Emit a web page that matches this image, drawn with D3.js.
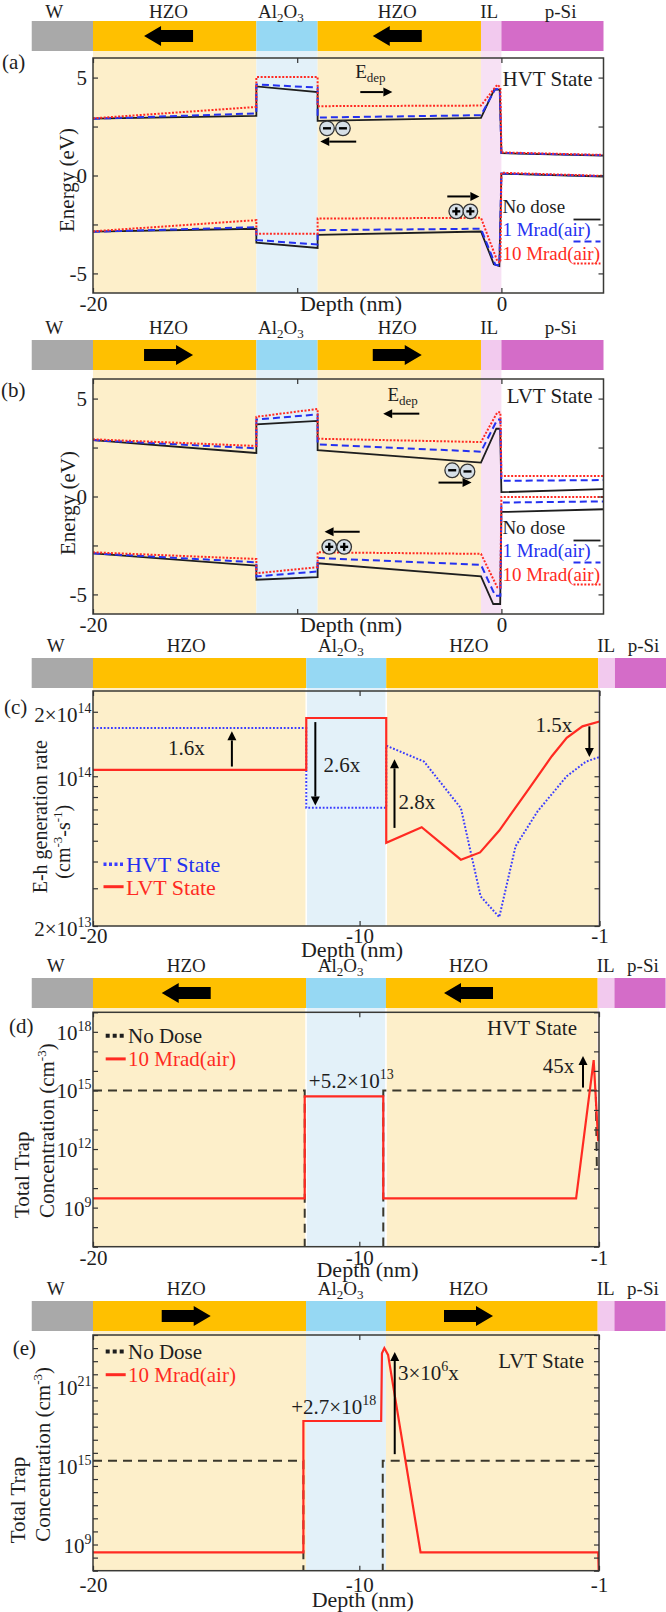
<!DOCTYPE html>
<html>
<head>
<meta charset="utf-8">
<script src="https://cdn.jsdelivr.net/npm/d3@7"></script>
<style>
  body { margin: 0; background: #fff; }
  svg { display: block; }
</style>
</head>
<body>
<svg id="chart"></svg>
<script>
// ---- layer stack (nm) ----
const layerNames = ["W", "HZO", "Al2O3", "HZO", "IL", "p-Si"];
const stackEdgesAB = [-23, -20, -12, -9, -1, 0, 5];
const stackEdgesCE = [-22.3, -20, -12, -9, -1.05, -0.42, 1.5];

// ---- (a) band diagram, HVT state: [depth nm, energy eV] ----
const hvtCbNoDose = [[-20, 2.9], [-12, 3.05], [-12, 4.55], [-9, 4.26], [-9, 2.79], [-1, 2.94], [-0.35, 4.39], [-0.08, 4.39], [0, 1.14], [5, 1.02]];
const hvtVbNoDose = [[-20, -2.87], [-12, -2.72], [-12, -3.43], [-9, -3.7], [-9, -3.03], [-1, -2.86], [-0.37, -4.53], [-0.1, -4.62], [0, 0.09], [5, -0.05]];
const hvtCb1M = [[-20, 2.9], [-12, 3.17], [-12, 4.65], [-9, 4.49], [-9, 2.96], [-1, 3.08], [-0.3, 4.42], [-0.08, 4.4], [0, 1.16], [5, 1.03]];
const hvtVb1M = [[-20, -2.87], [-12, -2.64], [-12, -3.3], [-9, -3.52], [-9, -2.79], [-1, -2.72], [-0.3, -4.55], [-0.1, -4.6], [0, 0.1], [5, -0.03]];
const hvtCb10M = [[-20, 2.92], [-12, 3.5], [-12, 5.03], [-9, 5.03], [-9, 3.54], [-1, 3.57], [-0.2, 4.64], [-0.05, 4.5], [0, 1.18], [5, 1.05]];
const hvtVb10M = [[-20, -2.85], [-12, -2.28], [-12, -2.97], [-9, -2.97], [-9, -2.2], [-1, -2.16], [-0.2, -4.37], [-0.05, -4.45], [0, 0.14], [5, -0.02]];

// ---- (b) band diagram, LVT state ----
const lvtCbNoDose = [[-20, 2.88], [-12, 2.22], [-12, 3.68], [-9, 3.86], [-9, 2.37], [-1, 1.73], [-0.25, 3.46], [-0.06, 3.46], [0, 0.22], [5, 0.38]];
const lvtVbNoDose = [[-20, -2.9], [-12, -3.53], [-12, -4.25], [-9, -4.12], [-9, -3.41], [-1, -4.08], [-0.4, -5.49], [-0.06, -5.49], [0, -0.79], [5, -0.65]];
const lvtCb1M = [[-20, 2.88], [-12, 2.46], [-12, 3.93], [-9, 4.19], [-9, 2.66], [-1, 2.29], [-0.2, 3.93], [-0.05, 3.93], [0, 0.8], [5, 0.84]];
const lvtVb1M = [[-20, -2.9], [-12, -3.36], [-12, -4.08], [-9, -3.83], [-9, -3.14], [-1, -3.49], [-0.3, -5.07], [-0.05, -5.07], [0, -0.31], [5, -0.25]];
const lvtCb10M = [[-20, 2.92], [-12, 2.58], [-12, 4.07], [-9, 4.47], [-9, 2.95], [-1, 2.78], [-0.2, 4.3], [-0.05, 4.3], [0, 1.05], [5, 1.05]];
const lvtVb10M = [[-20, -2.85], [-12, -3.19], [-12, -3.92], [-9, -3.61], [-9, -2.85], [-1, -2.93], [-0.2, -4.64], [-0.05, -4.64], [0, -0.02], [5, -0.02]];

// ---- (c) e-h generation rate (cm^-3 s^-1) ----
const genDepthLVT = [-20, -12, -12, -9, -9, -7.67, -6.2, -5.48, -4.76, -3.67, -2.79, -2.23, -1.64, -1];
const genRateLVT = [1.07e14, 1.07e14, 1.87e14, 1.87e14, 4.89e13, 5.78e13, 4.08e13, 4.41e13, 5.58e13, 8.67e13, 1.24e14, 1.51e14, 1.71e14, 1.8e14];
const genDepthHVT = [-20, -12, -12, -9, -9, -7.58, -6.2, -5.46, -4.76, -4.15, -3.32, -2.23, -1.51, -1];
const genRateHVT = [1.68e14, 1.68e14, 7.12e13, 7.12e13, 1.39e14, 1.17e14, 7.1e13, 2.75e13, 2.2e13, 4.71e13, 6.87e13, 1.0e14, 1.17e14, 1.23e14];

// ---- (d) trap concentration, HVT (cm^-3) ----
const trapDepthHvtNoDose = [-20, -12.05, -12.05, -9.1, -9.1, -1.12, -1.08];
const trapHvtNoDose = [1e15, 1e15, 1e5, 1e5, 1e15, 1e15, 1e11];
const trapDepthHvt10M = [-20, -12.05, -12.05, -9.1, -9.1, -1.86, -1.2, -1.03];
const trapHvt10M = [3e9, 3e9, 5e14, 5e14, 3e9, 3e9, 3.6e16, 2.5e12];

// ---- (e) trap concentration, LVT ----
const trapDepthLvtNoDose = [-20, -12.1, -12.1, -9.12, -9.12, -1];
const trapLvtNoDose = [2.5e15, 2.5e15, 1e5, 1e5, 2.5e15, 2.5e15];
const trapDepthLvt10M = [-20, -12.1, -12.1, -9.18, -9.15, -9.06, -8.92, -7.7, -1.03, -1];
const trapLvt10M = [2.5e8, 2.5e8, 2.7e18, 2.7e18, 4e23, 1e24, 3e23, 2.5e8, 2.5e8, 1e6];

// ---- ticks ----
const energyTicks = [-5, -2.5, 0, 2.5, 5];
const energyLabels = [-5, 0, 5];
const depthTicksAB = [-20, -10, 0];
const depthLabelsAB = [-20, 0];
const depthTicksCE = [-20, -10, -1];
const genTickLabels = [2e13, 1e14, 2e14];
const trapTicksD = d3.range(7, 20).map(e => Math.pow(10, e));
const trapTickLabelsD = [1e9, 1e12, 1e15, 1e18];
const trapTicksE = d3.range(7, 26).map(e => Math.pow(10, e));
const trapTickLabelsE = [1e9, 1e15, 1e21];

// ---- layout ----
const FONT = "'Liberation Serif', 'Times New Roman', Times, serif";
const labelNmAB = [-21.9, -16.3, -10.8, -5.1, -0.6, 2.9];
const labelNmCE = [-21.4, -16.5, -10.7, -5.9, -0.75, 0.65];
const fillOf = { "W": "#a9a9a9", "HZO": "#ffc000", "Al2O3": "#96d8f3", "IL": "#f2c9ee", "p-Si": "#d46cc8" };
const shadeOf = { "HZO": "#fdefca", "Al2O3": "#e3f1f9", "IL": "#f7e1f4" };
const INK = "#1e1e1e";
const BLUE = "#2431f0";
const RED = "#ff2a22";

const svg = d3.select("#chart").attr("width", 666).attr("height", 1612)
  .attr("font-family", FONT).style("font-family", FONT);

function layerLabel(t, name) {
  if (name === "Al2O3") {
    t.append("tspan").text("Al");
    t.append("tspan").attr("font-size", 13).attr("dy", 4).text("2");
    t.append("tspan").attr("dy", -4).text("O");
    t.append("tspan").attr("font-size", 13).attr("dy", 4).text("3");
  } else {
    t.text(name);
  }
}

function blockArrow(g, cx, cy, dir) {
  const L = 49, head = 17, hh = 10, bh = 6;
  const s = dir === "left" ? -1 : 1;
  const tip = cx + s * L / 2, tail = cx - s * L / 2, base = tip - s * head;
  const pts = [[tail, cy - bh], [base, cy - bh], [base, cy - hh], [tip, cy], [base, cy + hh], [base, cy + bh], [tail, cy + bh]];
  g.append("polygon").attr("points", pts.map(p => p.join(",")).join(" ")).attr("fill", "#000");
}

function arrow(g, x1, y1, x2, y2) {
  const a = Math.atan2(y2 - y1, x2 - x1), hl = 9, hw = 4.5;
  const bx = x2 - hl * Math.cos(a), by = y2 - hl * Math.sin(a);
  g.append("line").attr("x1", x1).attr("y1", y1).attr("x2", bx).attr("y2", by)
    .attr("stroke", "#000").attr("stroke-width", 2);
  const pts = [[x2, y2], [bx - hw * Math.sin(a), by + hw * Math.cos(a)], [bx + hw * Math.sin(a), by - hw * Math.cos(a)]];
  g.append("polygon").attr("points", pts.map(p => p.join(",")).join(" ")).attr("fill", "#000");
}

function charge(g, cx, cy, sign) {
  g.append("circle").attr("cx", cx).attr("cy", cy).attr("r", 7.3)
    .attr("fill", "#d6dfe7").attr("stroke", "#333").attr("stroke-width", 1.3);
  g.append("line").attr("x1", cx - 4).attr("x2", cx + 4).attr("y1", cy).attr("y2", cy)
    .attr("stroke", "#000").attr("stroke-width", 2.4);
  if (sign === "+") {
    g.append("line").attr("x1", cx).attr("x2", cx).attr("y1", cy - 4).attr("y2", cy + 4)
      .attr("stroke", "#000").attr("stroke-width", 2.4);
  }
}

function powLabel(t, v, sup) {
  const e = Math.round(Math.log10(v));
  const m = Math.round(v / Math.pow(10, e) * 10) / 10;
  t.append("tspan").text(m === 1 ? "10" : m + "×10");
  t.append("tspan").attr("font-size", sup).attr("dy", -9).text(e);
}

function drawPanel(p) {
  const g = svg.append("g");
  const x = d3.scaleLinear().domain(p.xDomain).range([p.l, p.r]);
  const y = (p.log ? d3.scaleLog() : d3.scaleLinear()).domain(p.yDomain).range([p.b, p.t]);
  const barH = 30, barBottom = p.barTop + barH;

  layerNames.forEach((name, i) => {
    const shade = shadeOf[name];
    if (!shade) return;
    const x0 = Math.max(x(p.edges[i]), p.l), x1 = Math.min(x(p.edges[i + 1]), p.r);
    if (x1 > x0) {
      g.append("rect").attr("x", x0).attr("y", barBottom).attr("width", x1 - x0)
        .attr("height", p.b - barBottom).attr("fill", shade);
    }
  });
  if (p.whiteEdges) {
    [p.edges[2], p.edges[3]].forEach(e => g.append("line")
      .attr("x1", x(e)).attr("x2", x(e)).attr("y1", barBottom).attr("y2", p.b)
      .attr("stroke", "#fff").attr("stroke-width", 1.6));
  }

  layerNames.forEach((name, i) => {
    g.append("rect").attr("x", x(p.edges[i])).attr("y", p.barTop)
      .attr("width", x(p.edges[i + 1]) - x(p.edges[i])).attr("height", barH)
      .attr("fill", fillOf[name]);
    const t = g.append("text").attr("x", x(p.labelNm[i])).attr("y", Math.max(p.barTop - 6.5, 17.5))
      .attr("text-anchor", "middle").attr("font-size", 19).attr("fill", INK);
    layerLabel(t, name);
  });
  if (p.pol) [1, 3].forEach(i => blockArrow(g, x(p.labelNm[i]), p.barTop + barH / 2, p.pol));

  const clipId = "clip-" + p.id;
  g.append("clipPath").attr("id", clipId).append("rect")
    .attr("x", p.l).attr("y", p.t).attr("width", p.r - p.l).attr("height", p.b - p.t);
  const plot = g.append("g").attr("clip-path", `url(#${clipId})`);

  g.append("rect").attr("x", p.l).attr("y", p.t).attr("width", p.r - p.l).attr("height", p.b - p.t)
    .attr("fill", "none").attr("stroke", "#3a3a36").attr("stroke-width", 1.5);

  g.append("text").attr("x", p.letterX).attr("y", p.letterY).attr("font-size", 21)
    .attr("fill", INK).text(`(${p.id})`);

  return Object.assign({}, p, { g, plot, x, y });
}

function axisTicks(g, axis, tr) {
  const a = g.append("g").attr("transform", tr).call(axis)
    .attr("font-family", FONT).attr("font-size", 21);
  a.select(".domain").remove();
  a.selectAll(".tick line").attr("stroke", "#333").attr("stroke-width", 1.2);
  a.selectAll(".tick text").attr("fill", INK);
  return a;
}

function depthAxes(P, ticks, labels, pad, labelY, labelX) {
  axisTicks(P.g, d3.axisBottom(P.x).tickValues(ticks).tickSize(-5).tickPadding(pad)
    .tickFormat(d => labels.includes(d) ? String(d) : ""), `translate(0,${P.b})`);
  axisTicks(P.g, d3.axisTop(P.x).tickValues(ticks).tickSize(-5).tickFormat(""), `translate(0,${P.t})`);
  P.g.append("text").attr("x", labelX).attr("y", labelY).attr("text-anchor", "middle")
    .attr("font-size", 22).attr("fill", INK).text("Depth (nm)");
}

function logAxes(P, ticks, labels, shift) {
  axisTicks(P.g, d3.axisLeft(P.y).tickValues(ticks).tickSize(-5).tickFormat(""), `translate(${P.l},0)`);
  axisTicks(P.g, d3.axisRight(P.y).tickValues(ticks).tickSize(-5).tickFormat(""), `translate(${P.r},0)`);
  labels.forEach(v => {
    const t = P.g.append("text").attr("x", P.l - 1.5).attr("y", P.y(v) + shift)
      .attr("text-anchor", "end").attr("font-size", 21).attr("fill", INK);
    powLabel(t, v, 14);
  });
}

// rotated axis title; parts are [text, isSuperscript]
function rotLabel(g, cx, cy, anchor, parts, size) {
  const t = g.append("text").attr("transform", `translate(${cx},${cy}) rotate(-90)`)
    .attr("dy", "0.35em").attr("text-anchor", anchor).attr("font-size", size).attr("fill", INK);
  let raised = false;
  parts.forEach(([s, sup]) => {
    const span = t.append("tspan").text(s);
    if (sup) { span.attr("font-size", 13).attr("dy", -8); raised = true; }
    else if (raised) { span.attr("dy", 8); raised = false; }
  });
  return t;
}

// ---------- (a) and (b): band diagrams ----------
function bandPanel(p, cb, vb, stateText, stateDy) {
  const P = drawPanel(p);
  const line = d3.line().x(d => P.x(d[0])).y(d => P.y(d[1]));
  const styles = [
    { color: INK, width: 1.8, dash: null },
    { color: BLUE, width: 2, dash: "7,4" },
    { color: RED, width: 2, dash: "2,1.6" }
  ];
  styles.forEach((s, i) => {
    [cb[i], vb[i]].forEach(series => P.plot.append("path").datum(series)
      .attr("d", line).attr("fill", "none").attr("stroke", s.color)
      .attr("stroke-width", s.width).attr("stroke-dasharray", s.dash));
  });

  axisTicks(P.g, d3.axisLeft(P.y).tickValues(energyTicks).tickSize(-5).tickPadding(6)
    .tickFormat(d => energyLabels.includes(d) ? String(d) : ""), `translate(${P.l},0)`);
  axisTicks(P.g, d3.axisRight(P.y).tickValues(energyTicks).tickSize(-5).tickFormat(""), `translate(${P.r},0)`);
  depthAxes(P, depthTicksAB, depthLabelsAB, 3, P.b + 18, 351);
  rotLabel(P.g, p.yLabelX, p.yLabelY, "middle", [["Energy (eV)"]], 21);

  P.g.append("text").attr("x", P.r - 11).attr("y", P.t + stateDy).attr("text-anchor", "end")
    .attr("font-size", 21).attr("fill", INK).text(stateText);

  const names = ["No dose", "1 Mrad(air)", "10 Mrad(air)"];
  const offs = [154.5, 178, 202];
  const sOffs = [161.5, 183.5, 205.5];
  names.forEach((n, i) => {
    P.g.append("text").attr("x", P.x(0) + 1).attr("y", P.t + offs[i])
      .attr("font-size", 19).attr("fill", styles[i].color).text(n);
    P.g.append("line").attr("x1", P.r - 30).attr("x2", P.r - 3)
      .attr("y1", P.t + sOffs[i]).attr("y2", P.t + sOffs[i])
      .attr("stroke", styles[i].color).attr("stroke-width", styles[i].width)
      .attr("stroke-dasharray", styles[i].dash);
  });
  return P;
}

function edep(P, xn, yn) {
  const t = P.g.append("text").attr("x", P.x(xn)).attr("y", P.y(yn)).attr("font-size", 19).attr("fill", INK);
  t.append("tspan").text("E");
  t.append("tspan").attr("font-size", 13).attr("dy", 4).text("dep");
}

const pa = bandPanel({ id: "a", barTop: 21, l: 93, r: 603.5, t: 58, b: 293, xDomain: [-20, 5], yDomain: [-6, 6],
  edges: stackEdgesAB, labelNm: labelNmAB, pol: "left", letterX: 2, letterY: 69, yLabelX: 66.7, yLabelY: 180 },
  [hvtCbNoDose, hvtCb1M, hvtCb10M], [hvtVbNoDose, hvtVb1M, hvtVb10M], "HVT State", 28);
edep(pa, -7.16, 5.0);
arrow(pa.g, pa.x(-6.91), pa.y(4.26), pa.x(-5.34), pa.y(4.26));
charge(pa.g, pa.x(-8.54), pa.y(2.41), "-");
charge(pa.g, pa.x(-7.76), pa.y(2.41), "-");
arrow(pa.g, pa.x(-7.11), pa.y(1.73), pa.x(-8.87), pa.y(1.73));
arrow(pa.g, pa.x(-2.65), pa.y(-1.07), pa.x(-1.08), pa.y(-1.07));
charge(pa.g, pa.x(-2.21), pa.y(-1.83), "+");
charge(pa.g, pa.x(-1.52), pa.y(-1.83), "+");

const pb = bandPanel({ id: "b", barTop: 340, l: 93, r: 603.5, t: 379, b: 614, xDomain: [-20, 5], yDomain: [-6, 6],
  edges: stackEdgesAB, labelNm: labelNmAB, pol: "right", letterX: 1, letterY: 397, yLabelX: 68, yLabelY: 503 },
  [lvtCbNoDose, lvtCb1M, lvtCb10M], [lvtVbNoDose, lvtVb1M, lvtVb10M], "LVT State", 23.5);
edep(pb, -5.58, 4.88);
arrow(pb.g, pb.x(-4.02), pb.y(4.23), pb.x(-5.79), pb.y(4.23));
charge(pb.g, pb.x(-2.41), pb.y(1.34), "-");
charge(pb.g, pb.x(-1.66), pb.y(1.28), "-");
arrow(pb.g, pb.x(-3.08), pb.y(0.71), pb.x(-1.46), pb.y(0.71));
arrow(pb.g, pb.x(-6.94), pb.y(-1.8), pb.x(-8.66), pb.y(-1.8));
charge(pb.g, pb.x(-8.43), pb.y(-2.57), "+");
charge(pb.g, pb.x(-7.7), pb.y(-2.57), "+");

// ---------- (c): generation rate ----------
const pc = drawPanel({ id: "c", barTop: 658, l: 93, r: 599.5, t: 691, b: 926, xDomain: [-20, -1], yDomain: [2e13, 2.5e14],
  log: true, edges: stackEdgesCE, labelNm: labelNmCE, pol: null, whiteEdges: true, letterX: 4, letterY: 714 });
{
  const lineC = d3.line().x(d => pc.x(d[0])).y(d => pc.y(d[1]));
  pc.plot.append("path").datum(d3.zip(genDepthHVT, genRateHVT)).attr("d", lineC).attr("fill", "none")
    .attr("stroke", "#3a3cff").attr("stroke-width", 2).attr("stroke-dasharray", "1.8,1.8");
  pc.plot.append("path").datum(d3.zip(genDepthLVT, genRateLVT)).attr("d", lineC).attr("fill", "none")
    .attr("stroke", RED).attr("stroke-width", 2.2);
  logAxes(pc, pc.y.ticks(), genTickLabels, 10);
  depthAxes(pc, depthTicksCE, depthTicksCE, 2, 957, 352);
  rotLabel(pc.g, 39.5, 816.7, "middle", [["E-h generation rate"]], 20);
  rotLabel(pc.g, 62.7, 841.7, "middle", [["(cm"], ["-3", true], ["-s"], ["-1", true], [")"]], 20);

  [["1.6x", -16.5, 1.36e14], ["2.6x", -10.66, 1.13e14], ["2.8x", -7.85, 7.64e13], ["1.5x", -2.71, 1.74e14]]
    .forEach(([s, xn, v]) => pc.g.append("text").attr("x", pc.x(xn)).attr("y", pc.y(v)).attr("dy", "0.35em")
      .attr("text-anchor", "middle").attr("font-size", 21).attr("fill", INK).text(s));
  arrow(pc.g, pc.x(-14.79), pc.y(1.11e14), pc.x(-14.79), pc.y(1.62e14));
  arrow(pc.g, pc.x(-11.66), pc.y(1.79e14), pc.x(-11.66), pc.y(7.3e13));
  arrow(pc.g, pc.x(-8.69), pc.y(5.74e13), pc.x(-8.69), pc.y(1.2e14));
  arrow(pc.g, pc.x(-1.38), pc.y(1.71e14), pc.x(-1.38), pc.y(1.23e14));

  pc.g.append("line").attr("x1", 103.5).attr("x2", 123.6).attr("y1", 864.3).attr("y2", 864.3)
    .attr("stroke", "#3a3cff").attr("stroke-width", 3.5).attr("stroke-dasharray", "3,2.5");
  pc.g.append("text").attr("x", 126).attr("y", 872).attr("font-size", 22).attr("fill", BLUE).text("HVT State");
  pc.g.append("line").attr("x1", 103.5).attr("x2", 123.6).attr("y1", 886.7).attr("y2", 886.7)
    .attr("stroke", RED).attr("stroke-width", 3);
  pc.g.append("text").attr("x", 126).attr("y", 894.5).attr("font-size", 22).attr("fill", RED).text("LVT State");
}

// ---------- (d), (e): trap concentration ----------
function trapPanel(p, noDose, dosed, ticks, labels, stateText, stateY) {
  const P = drawPanel(p);
  const lineT = d3.line().x(d => P.x(d[0])).y(d => P.y(d[1]));
  P.plot.append("path").datum(noDose).attr("d", lineT).attr("fill", "none")
    .attr("stroke", "#3b382c").attr("stroke-width", 2).attr("stroke-dasharray", "9,6");
  P.plot.append("path").datum(dosed).attr("d", lineT).attr("fill", "none")
    .attr("stroke", RED).attr("stroke-width", 2.2);
  logAxes(P, ticks, labels, 8);
  depthAxes(P, depthTicksCE, depthTicksCE, p.tickPad, p.depthY, p.depthX);
  P.g.append("text").attr("x", p.stateX).attr("y", stateY).attr("text-anchor", "end")
    .attr("font-size", 21).attr("fill", INK).text(stateText);

  rotLabel(P.g, p.yl1[0], p.yl1[1], "start", [["Total Trap"]], 21);
  rotLabel(P.g, p.yl2[0], p.yl2[1], "start", [["Concentration (cm"], ["-3", true], [")"]], 21);

  P.g.append("line").attr("x1", 105.7).attr("x2", 125.7).attr("y1", p.legY).attr("y2", p.legY)
    .attr("stroke", INK).attr("stroke-width", 4).attr("stroke-dasharray", "4,3");
  P.g.append("text").attr("x", 128).attr("y", p.legY + 7.3).attr("font-size", 21).attr("fill", INK).text("No Dose");
  P.g.append("line").attr("x1", 105.7).attr("x2", 125.7).attr("y1", p.legY + 23.2).attr("y2", p.legY + 23.2)
    .attr("stroke", RED).attr("stroke-width", 3);
  P.g.append("text").attr("x", 128).attr("y", p.legY + 30.5).attr("font-size", 21).attr("fill", RED).text("10 Mrad(air)");
  return P;
}

const pd = trapPanel({ id: "d", barTop: 978, l: 93, r: 599, t: 1012.3, b: 1246.7, xDomain: [-20, -1], yDomain: [1e7, 1e19],
  log: true, edges: stackEdgesCE, labelNm: labelNmCE, pol: "left", whiteEdges: true, letterX: 9, letterY: 1033,
  tickPad: 3, depthY: 1277, depthX: 367.5, stateX: 577, yl1: [21.7, 1218], yl2: [47, 1218], legY: 1035.7 },
  d3.zip(trapDepthHvtNoDose, trapHvtNoDose), d3.zip(trapDepthHvt10M, trapHvt10M),
  trapTicksD, trapTickLabelsD, "HVT State", 1035);
pd.g.append("text").attr("x", pd.x(-2.52)).attr("y", pd.y(1.8e16)).attr("dy", "0.35em")
  .attr("text-anchor", "middle").attr("font-size", 21).attr("fill", INK).text("45x");
arrow(pd.g, pd.x(-1.6), pd.y(1.4e15), pd.x(-1.6), pd.y(5.8e16));
{
  const t = pd.g.append("text").attr("x", pd.x(-10.3)).attr("y", pd.y(3.2e15)).attr("dy", "0.35em")
    .attr("text-anchor", "middle").attr("font-size", 21).attr("fill", INK);
  t.append("tspan").text("+5.2×10");
  t.append("tspan").attr("font-size", 14).attr("dy", -9).text("13");
}

const pe = trapPanel({ id: "e", barTop: 1301, l: 93, r: 599, t: 1335, b: 1570.7, xDomain: [-20, -1], yDomain: [1e7, 1e25],
  log: true, edges: stackEdgesCE, labelNm: labelNmCE, pol: "right", whiteEdges: false, letterX: 12.7, letterY: 1355,
  tickPad: 6, depthY: 1607, depthX: 362.7, stateX: 584, yl1: [18, 1543.3], yl2: [42.6, 1541.7], legY: 1351.5 },
  d3.zip(trapDepthLvtNoDose, trapLvtNoDose), d3.zip(trapDepthLvt10M, trapLvt10M),
  trapTicksE, trapTickLabelsE, "LVT State", 1368);
{
  const t = pe.g.append("text").attr("x", 398).attr("y", pe.y(Math.pow(10, 22.1))).attr("dy", "0.35em")
    .attr("font-size", 21).attr("fill", INK);
  t.append("tspan").text("3×10");
  t.append("tspan").attr("font-size", 14).attr("dy", -9).text("6");
  t.append("tspan").attr("dy", 9).text("x");
  arrow(pe.g, pe.x(-8.67), pe.y(Math.pow(10, 15.9)), pe.x(-8.67), pe.y(Math.pow(10, 23.7)));
  const u = pe.g.append("text").attr("x", pe.x(-10.96)).attr("y", pe.y(Math.pow(10, 19.52))).attr("dy", "0.35em")
    .attr("text-anchor", "middle").attr("font-size", 21).attr("fill", INK);
  u.append("tspan").text("+2.7×10");
  u.append("tspan").attr("font-size", 14).attr("dy", -9).text("18");
}
</script>
</body>
</html>
